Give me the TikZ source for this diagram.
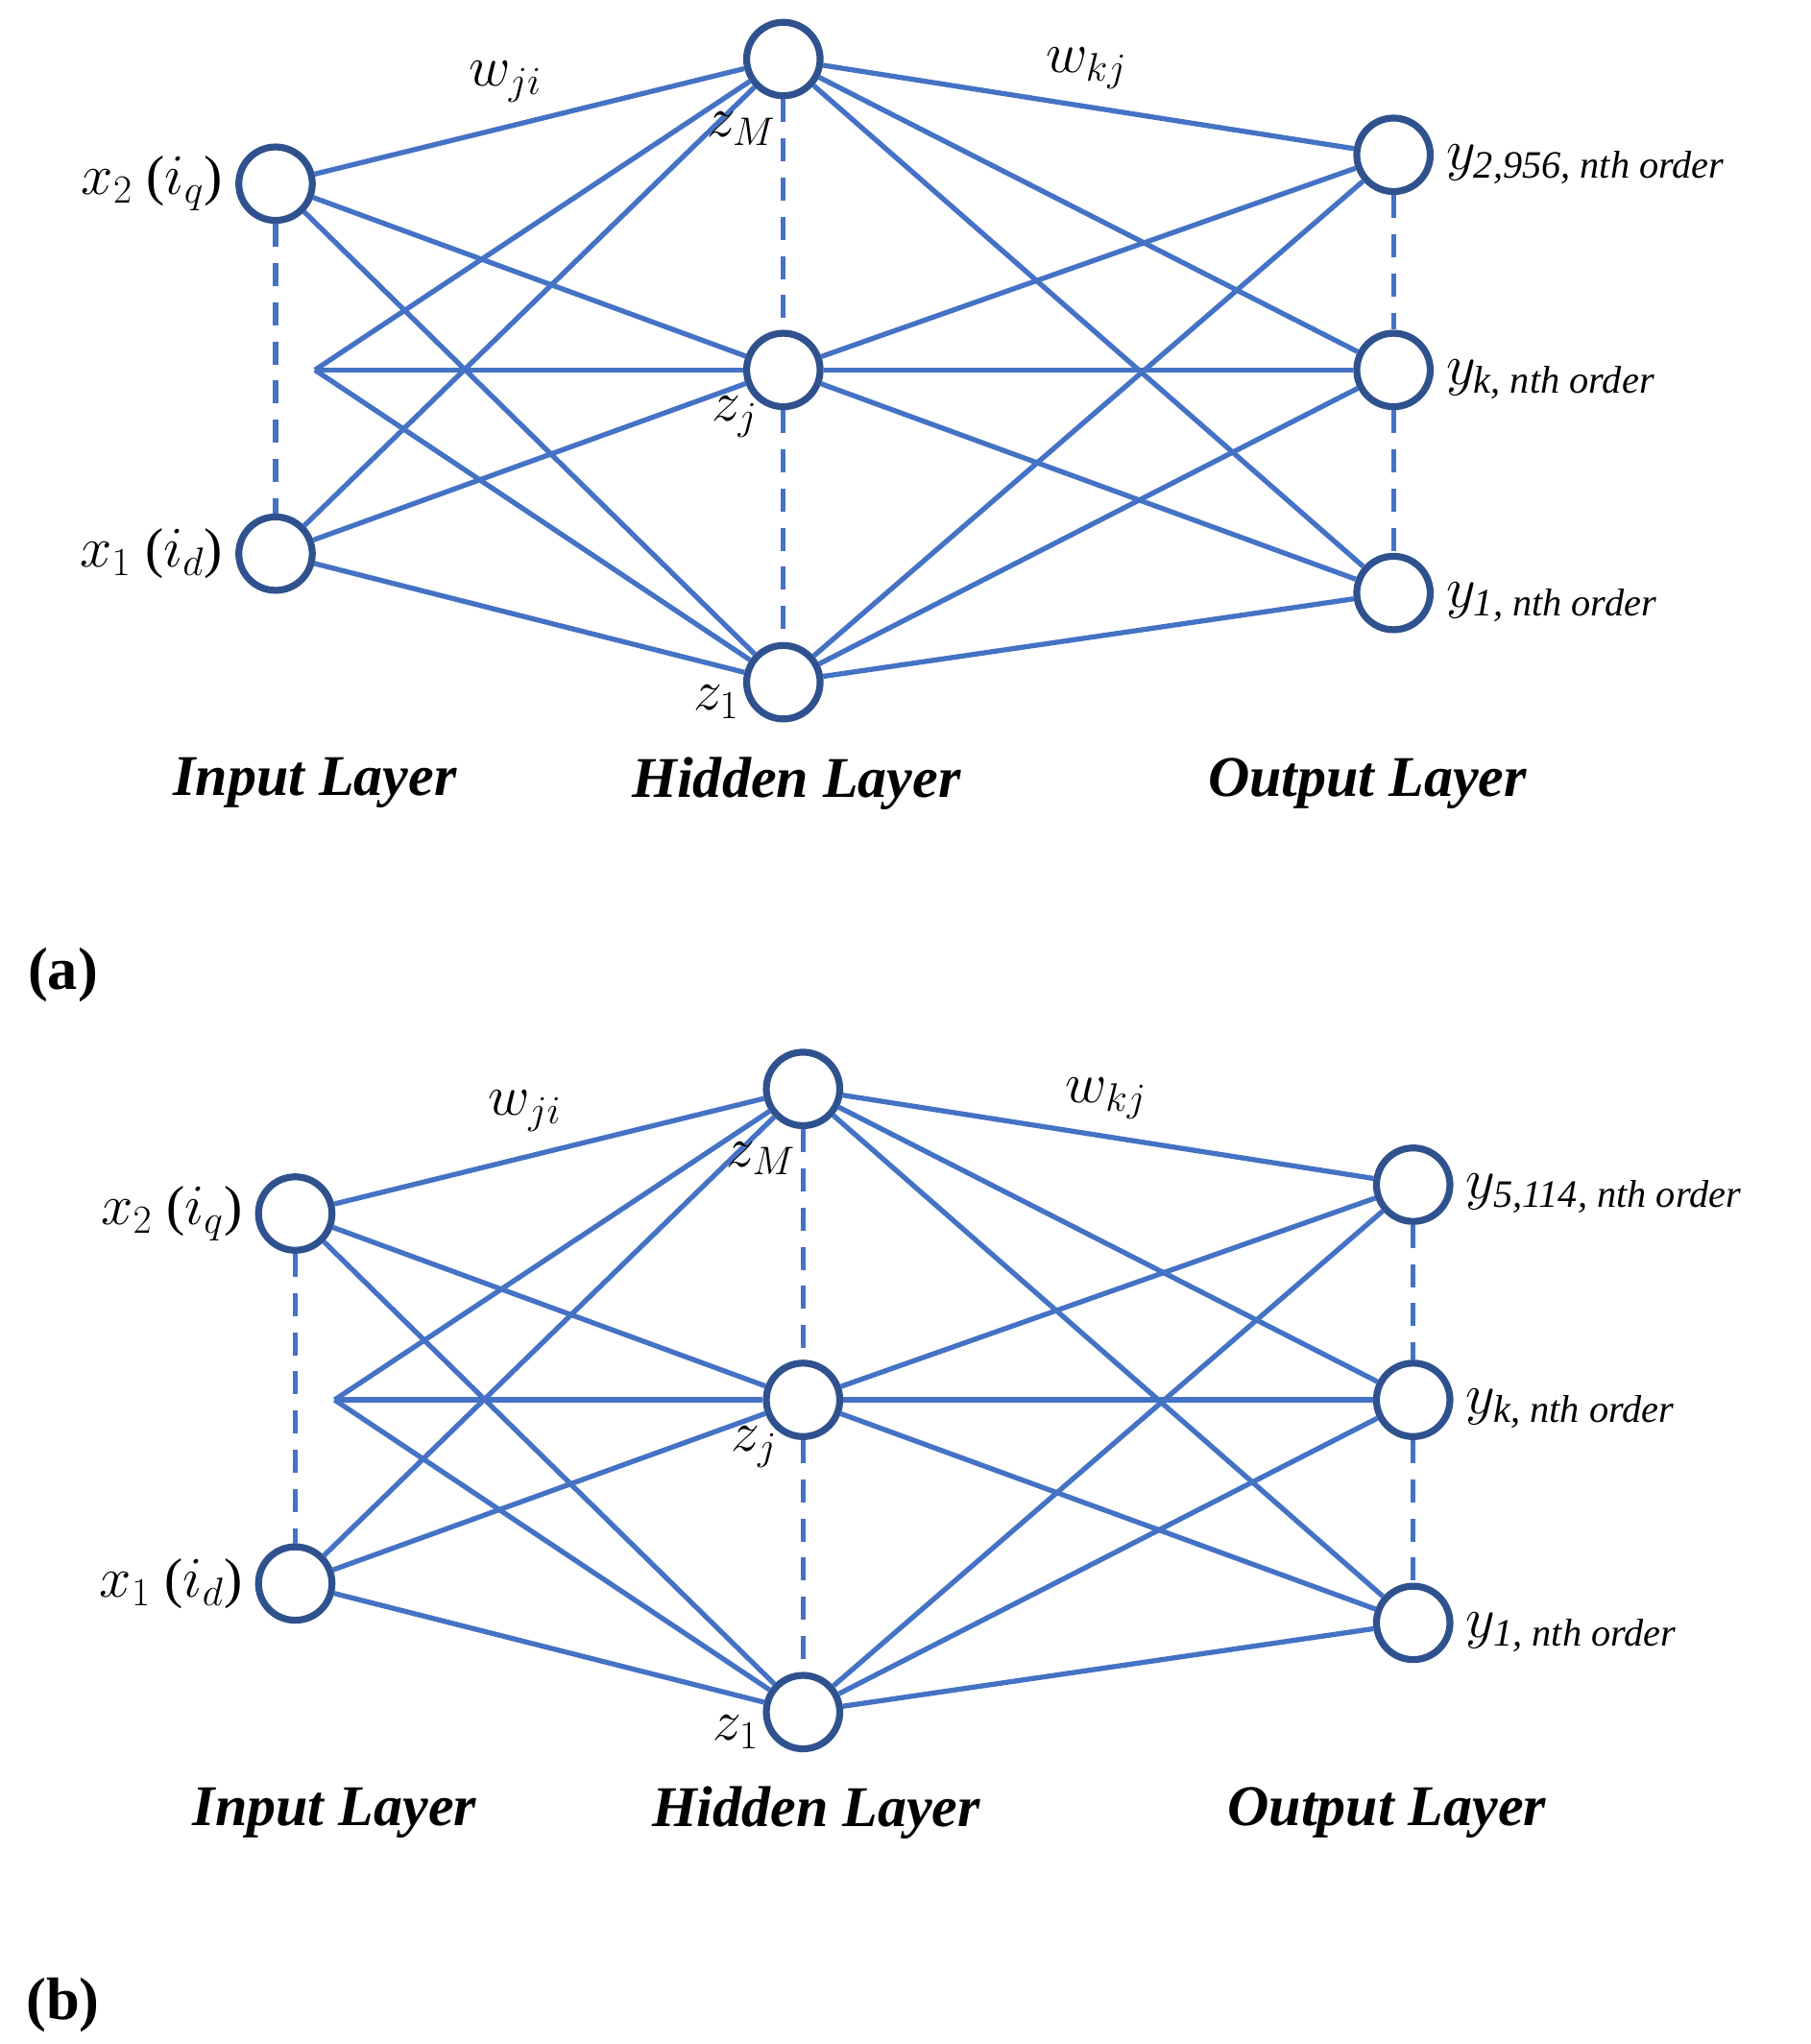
\documentclass[tikz,border=0pt]{standalone}
\usepackage{amsmath}
\usepackage{fontspec}
\setmainfont{Liberation Serif}
\usetikzlibrary{positioning}
\definecolor{edgeblue}{RGB}{68,114,196}
\definecolor{ringblue}{RGB}{47,82,143}
\tikzset{
  unit/.style={circle,draw=ringblue,line width=3pt,fill=white,minimum size=1.12cm,inner sep=0pt},
  link/.style={edgeblue,line width=2.2pt},
  gap/.style={edgeblue,line width=2.2pt,dash pattern=on 10pt off 7pt},
  lbl/.style={font=\fontsize{24}{28}\selectfont},
  layer/.style={font=\fontsize{25}{29}\selectfont\bfseries\itshape},
  tag/.style={font=\fontsize{26}{30}\selectfont\bfseries}
}
\begin{document}
\begin{tikzpicture}[x=0.02cm,y=-0.02cm]
  \useasboundingbox (0,0) rectangle (1380,1558);
  \foreach \dx/\dy/\top/\t in {0/0/{2,956}/a,15/785/{5,114}/b}{
  \begin{scope}[shift={(\dx,\dy)}]
    % NODES
    \node[unit] (x2) at (210,140) {};
    \node[unit] (x1) at (210,422) {};
    \coordinate (xm) at (240,282);
    \node[unit] (zM) at (597,45) {};
    \node[unit] (zj) at (597,282) {};
    \node[unit] (z1) at (597,520) {};
    \node[unit] (yt) at (1062,118) {};
    \node[unit] (yk) at (1062,282) {};
    \node[unit] (y1) at (1062,452) {};
    % LINKS
    \foreach \a in {x2,xm,x1}
      \foreach \b in {zM,zj,z1}
        \draw[link] (\a) -- (\b);
    \foreach \a in {zM,zj,z1}
      \foreach \b in {yt,yk,y1}
        \draw[link] (\a) -- (\b);
    \draw[gap] (x2) -- (x1);
    \draw[gap] (zM) -- (zj);
    \draw[gap] (zj) -- (z1);
    \draw[gap] (yt) -- (yk);
    \draw[gap] (yk) -- (y1);
    % LABELS
    \node[lbl,left=2pt of x2] (lx2) {$x_2$ ($i_q$)};
    \node[lbl,left=2pt of x1] (lx1) {$x_1$ ($i_d$)};
    \node[lbl] (lzM) at (565,98) {$z_M$};
    \node[lbl] (lzj) at (560,318) {$z_j$};
    \node[lbl] (lz1) at (546,535) {$z_1$};
    \node[lbl,right=2pt of yt,yshift=-4pt] (lyt) {$y_{\textit{\top, nth order}}$};
    \node[lbl,right=2pt of yk,yshift=-4pt] (lyk) {$y_{\textit{k, nth order}}$};
    \node[lbl,right=2pt of y1,yshift=-4pt] (ly1) {$y_{\textit{1, nth order}}$};
    \node[lbl] (wji) at (385,62) {$w_{ji}$};
    \node[lbl] (wkj) at (828,52) {$w_{kj}$};
    \node[layer] (lin) at (240,597) {Input Layer};
    \node[layer] (lhid) at (607,597) {Hidden Layer};
    \node[layer] (lout) at (1042,597) {Output Layer};
    \node[tag] (cap) at (48-\dx,743) {(\t)};
  \end{scope}}
\end{tikzpicture}
\end{document}
